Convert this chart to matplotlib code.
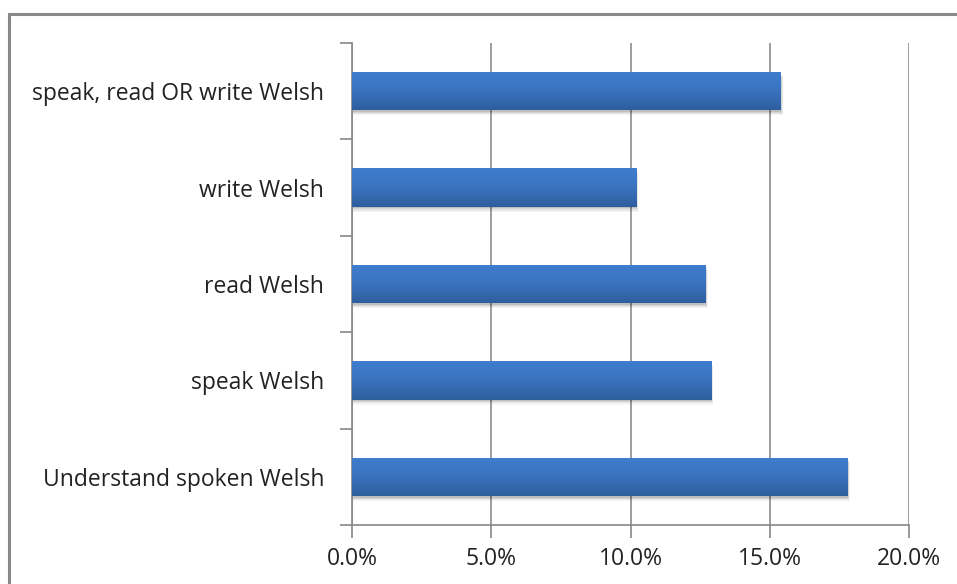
import numpy as np
import matplotlib.pyplot as plt
from matplotlib.patches import Rectangle
from matplotlib.colors import LinearSegmentedColormap

categories = ["Understand spoken Welsh", "speak Welsh", "read Welsh",
              "write Welsh", "speak, read OR write Welsh"]
values = [17.8, 12.9, 12.7, 10.2, 15.4]
xticks = [0, 5, 10, 15, 20]
xtick_labels = ["0.0%", "5.0%", "10.0%", "15.0%", "20.0%"]

W, H = 957, 584
fig = plt.figure(figsize=(W / 100, H / 100), dpi=100)
fig.patch.set_facecolor("white")

# outer chart-area frame
frame = Rectangle((9 / W, -0.05), 1.1, (H - 14) / H + 0.05, transform=fig.transFigure,
                  fill=False, edgecolor="#888888", linewidth=2.2, zorder=0)
fig.patches.append(frame)

left, right, top, bottom = 352, 909, 43, 525
ax = fig.add_axes([left / W, 1 - bottom / H, (right - left) / W, (bottom - top) / H])
ax.set_xlim(0, 20)
ax.set_ylim(-0.5, len(categories) - 0.5)

font = ["Open Sans", "DejaVu Sans"]
bar_h = 0.4
cmap = LinearSegmentedColormap.from_list("bar", ["#2e5e9d", "#3a73c0", "#3f7dce"])
grad = np.linspace(0, 1, 256).reshape(-1, 1)

for i, v in enumerate(values):
    y0 = i - bar_h / 2
    # soft drop shadow
    for k, a in enumerate([0.10, 0.08, 0.06, 0.04]):
        off = 0.015 + 0.012 * k
        ax.add_patch(Rectangle((0.02, y0 - off), v + 0.02 * k, bar_h, facecolor="black",
                               edgecolor="none", alpha=a, zorder=2))
    rect = Rectangle((0, y0), v, bar_h, facecolor="#3a73c0", edgecolor="none", zorder=3)
    ax.add_patch(rect)
    im = ax.imshow(grad, extent=(0, v, y0, y0 + bar_h), aspect="auto", cmap=cmap,
                   origin="lower", zorder=4, interpolation="bilinear")
    im.set_clip_path(rect)

ax.set_xticks(xticks)
ax.set_xticklabels(xtick_labels, fontsize=16.5, family=font, color="#222222")
ax.set_yticks(range(len(categories)))
ax.set_yticklabels(categories, fontsize=16.5, family=font, color="#222222")
ax.set_yticks(np.arange(-0.5, len(categories), 1), minor=True)
ax.tick_params(axis="y", which="major", length=0, pad=20)
ax.tick_params(axis="y", which="minor", length=9, color="#888888", width=1.2)
ax.tick_params(axis="x", which="major", length=9, color="#888888", width=1.2, pad=7)

ax.grid(axis="x", color="#8c8c8c", linewidth=1.2, zorder=1)
ax.set_axisbelow(True)
for s in ["top", "right"]:
    ax.spines[s].set_visible(False)
for s in ["left", "bottom"]:
    ax.spines[s].set_color("#888888")
    ax.spines[s].set_linewidth(1.2)

fig.savefig("out.png", dpi=100)
